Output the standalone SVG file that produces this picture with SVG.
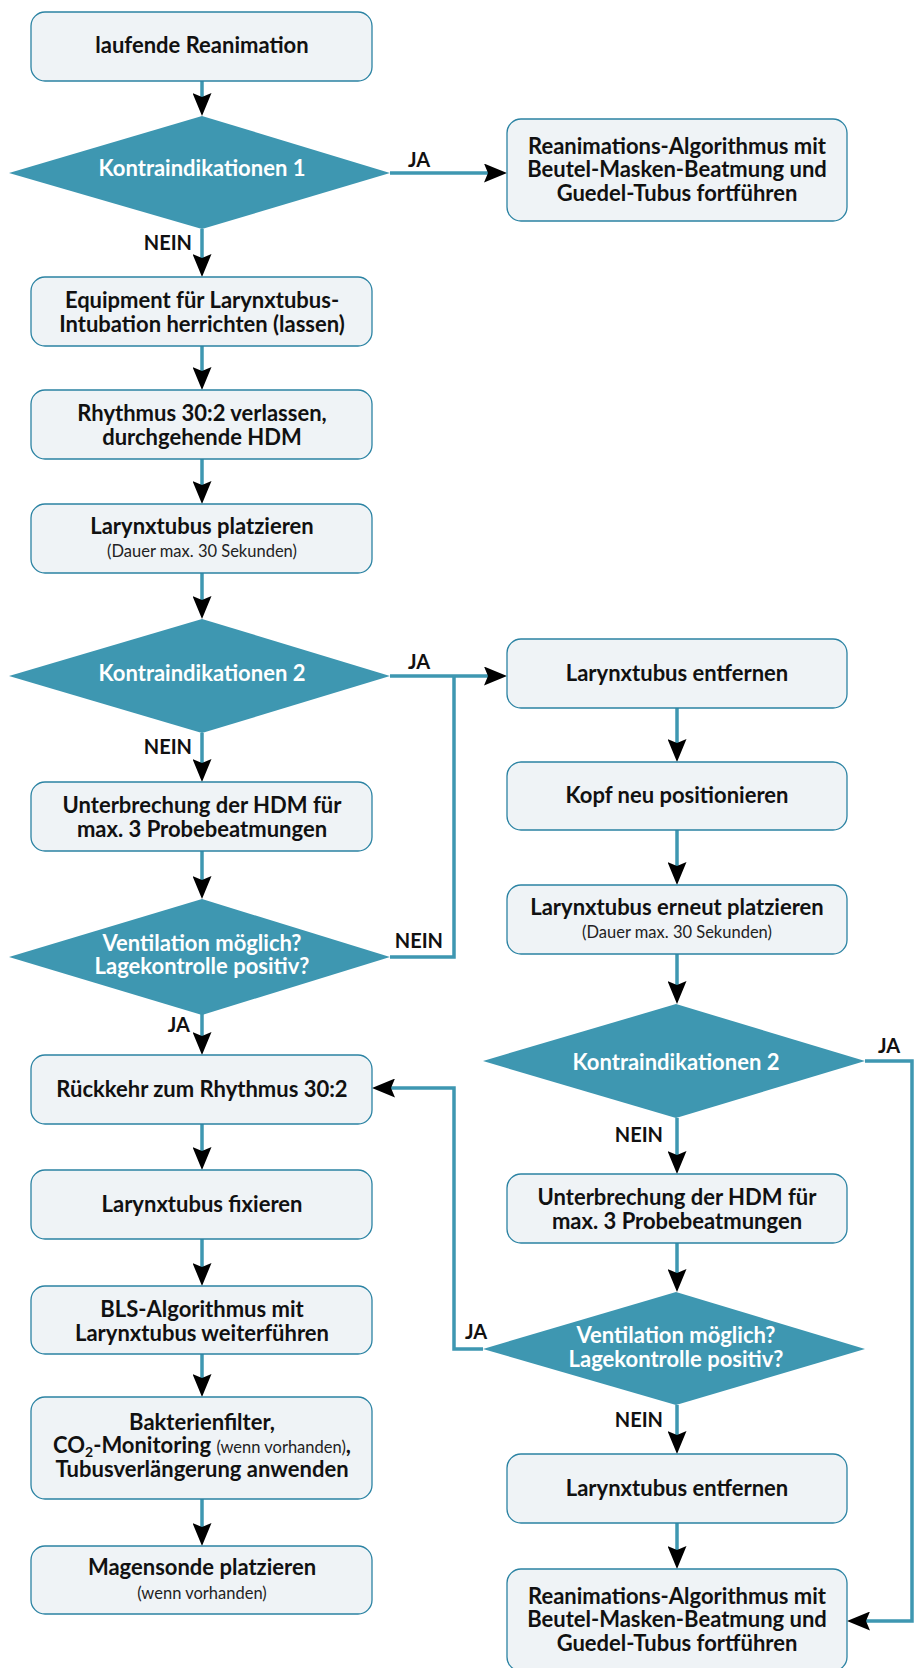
<svg xmlns="http://www.w3.org/2000/svg" width="914" height="1668" viewBox="0 0 914 1668">
<style>
.box{fill:#eff3f6;stroke:#2b83a3;stroke-width:1.3}
.dia{fill:#3e97b1}
.t{font-family:Lato,"Noto Sans",sans-serif;font-weight:700;font-size:22px;fill:#111;text-anchor:middle}
.w{fill:#fff}
.s{font-family:Lato,"Noto Sans",sans-serif;font-weight:400;font-size:16.5px;fill:#222;text-anchor:middle}
.sr{font-weight:400;font-size:16.5px;fill:#222}
.lbl{font-family:Lato,"Noto Sans",sans-serif;font-weight:700;font-size:20px;fill:#111}
.c{fill:none;stroke:#3e97b1;stroke-width:3.5}
</style>
<defs>
<marker id="ah" markerUnits="userSpaceOnUse" markerWidth="23" markerHeight="19" refX="12" refY="9.5" orient="auto">
<path d="M0,0 L23,9.5 L0,19 L4,9.5 z" fill="#000"/>
</marker>
</defs>
<rect width="914" height="1668" fill="#fff"/>

<g id="connectors">
<path class="c" d="M202,81 V105" marker-end="url(#ah)"/>
<path class="c" d="M202,229 V266" marker-end="url(#ah)"/>
<path class="c" d="M202,346 V379" marker-end="url(#ah)"/>
<path class="c" d="M202,459 V493" marker-end="url(#ah)"/>
<path class="c" d="M202,573 V608" marker-end="url(#ah)"/>
<path class="c" d="M202,733 V771" marker-end="url(#ah)"/>
<path class="c" d="M202,851 V888" marker-end="url(#ah)"/>
<path class="c" d="M202,1014 V1044" marker-end="url(#ah)"/>
<path class="c" d="M202,1124 V1159" marker-end="url(#ah)"/>
<path class="c" d="M202,1239 V1275" marker-end="url(#ah)"/>
<path class="c" d="M202,1354 V1386" marker-end="url(#ah)"/>
<path class="c" d="M202,1499 V1535" marker-end="url(#ah)"/>
<path class="c" d="M390,173 H496" marker-end="url(#ah)"/>
<path class="c" d="M390,676 H496" marker-end="url(#ah)"/>
<path class="c" d="M390,957 H454 V676"/>
<path class="c" d="M677,708 V751" marker-end="url(#ah)"/>
<path class="c" d="M677,830 V874" marker-end="url(#ah)"/>
<path class="c" d="M677,954 V993" marker-end="url(#ah)"/>
<path class="c" d="M677,1118 V1163" marker-end="url(#ah)"/>
<path class="c" d="M677,1243 V1281" marker-end="url(#ah)"/>
<path class="c" d="M677,1405 V1443" marker-end="url(#ah)"/>
<path class="c" d="M677,1523 V1558" marker-end="url(#ah)"/>
<path class="c" d="M483,1349 H454 V1088 H383" marker-end="url(#ah)"/>
<path class="c" d="M865,1061 H912 V1621 H858" marker-end="url(#ah)"/>
<text class="lbl" x="408" y="167">JA</text>
<text class="lbl" x="192" y="250" text-anchor="end">NEIN</text>
<text class="lbl" x="408" y="669">JA</text>
<text class="lbl" x="192" y="754" text-anchor="end">NEIN</text>
<text class="lbl" x="443" y="948" text-anchor="end">NEIN</text>
<text class="lbl" x="190" y="1032" text-anchor="end">JA</text>
<text class="lbl" x="878" y="1053">JA</text>
<text class="lbl" x="663" y="1142" text-anchor="end">NEIN</text>
<text class="lbl" x="465" y="1339">JA</text>
<text class="lbl" x="663" y="1427" text-anchor="end">NEIN</text>
</g>

<g id="n1"><rect class="box" x="31" y="12" width="341" height="69" rx="14"/><text class="t" x="202" y="53">laufende Reanimation</text></g>
<g id="d1"><polygon class="dia" points="202,116 390,173 202,229 9,173"/><text class="t w" x="202" y="176">Kontraindikationen 1</text></g>
<g id="n2"><rect class="box" x="507" y="119" width="340" height="102" rx="14"/>
<text class="t" x="677" y="154">Reanimations-Algorithmus mit<tspan x="677" dy="23.3">Beutel-Masken-Beatmung und</tspan><tspan x="677" dy="23.3">Guedel-Tubus fortführen</tspan></text></g>
<g id="n3"><rect class="box" x="31" y="277" width="341" height="69" rx="14"/>
<text class="t" x="202" y="308">Equipment für Larynxtubus-<tspan x="202" dy="23.5">Intubation herrichten (lassen)</tspan></text></g>
<g id="n4"><rect class="box" x="31" y="390" width="341" height="69" rx="14"/>
<text class="t" x="202" y="421">Rhythmus 30:2 verlassen,<tspan x="202" dy="23.5">durchgehende HDM</tspan></text></g>
<g id="n5"><rect class="box" x="31" y="504" width="341" height="69" rx="14"/>
<text class="t" x="202" y="534">Larynxtubus platzieren<tspan class="sr" x="202" dy="23">(Dauer max. 30 Sekunden)</tspan></text></g>
<g id="d2"><polygon class="dia" points="202,619 390,676 202,733 9,676"/><text class="t w" x="202" y="681">Kontraindikationen 2</text></g>
<g id="n6"><rect class="box" x="507" y="639" width="340" height="69" rx="14"/><text class="t" x="677" y="681">Larynxtubus entfernen</text></g>
<g id="n7"><rect class="box" x="31" y="782" width="341" height="69" rx="14"/>
<text class="t" x="202" y="813">Unterbrechung der HDM für<tspan x="202" dy="23.5">max. 3 Probebeatmungen</tspan></text></g>
<g id="n8"><rect class="box" x="507" y="762" width="340" height="68" rx="14"/><text class="t" x="677" y="803">Kopf neu positionieren</text></g>
<g id="n9"><rect class="box" x="507" y="885" width="340" height="69" rx="14"/>
<text class="t" x="677" y="915">Larynxtubus erneut platzieren<tspan class="sr" x="677" dy="23">(Dauer max. 30 Sekunden)</tspan></text></g>
<g id="d3"><polygon class="dia" points="202,899 390,957 202,1015 9,957"/>
<text class="t w" x="202" y="951">Ventilation möglich?<tspan x="202" dy="23.3">Lagekontrolle positiv?</tspan></text></g>
<g id="d4"><polygon class="dia" points="676,1004 865,1061 676,1118 483,1061"/><text class="t w" x="676" y="1070">Kontraindikationen 2</text></g>
<g id="n10"><rect class="box" x="31" y="1055" width="341" height="69" rx="14"/><text class="t" x="202" y="1097">Rückkehr zum Rhythmus 30:2</text></g>
<g id="n11"><rect class="box" x="31" y="1170" width="341" height="69" rx="14"/><text class="t" x="202" y="1212">Larynxtubus fixieren</text></g>
<g id="n12"><rect class="box" x="507" y="1174" width="340" height="69" rx="14"/>
<text class="t" x="677" y="1205">Unterbrechung der HDM für<tspan x="677" dy="23.5">max. 3 Probebeatmungen</tspan></text></g>
<g id="n13"><rect class="box" x="31" y="1286" width="341" height="68" rx="14"/>
<text class="t" x="202" y="1317">BLS-Algorithmus mit<tspan x="202" dy="23.5">Larynxtubus weiterführen</tspan></text></g>
<g id="d5"><polygon class="dia" points="676,1292 865,1349 676,1405 483,1349"/>
<text class="t w" x="676" y="1343">Ventilation möglich?<tspan x="676" dy="23.5">Lagekontrolle positiv?</tspan></text></g>
<g id="n14"><rect class="box" x="31" y="1397" width="341" height="102" rx="14"/>
<text class="t" x="202" y="1430">Bakterienfilter,<tspan x="202" dy="23.3">CO</tspan><tspan font-size="14" dy="4">2</tspan><tspan dy="-4">-Monitoring </tspan><tspan class="sr">(wenn vorhanden)</tspan>,<tspan x="202" dy="23.5">Tubusverlängerung anwenden</tspan></text></g>
<g id="n15"><rect class="box" x="507" y="1454" width="340" height="69" rx="14"/><text class="t" x="677" y="1496">Larynxtubus entfernen</text></g>
<g id="n16"><rect class="box" x="31" y="1546" width="341" height="68" rx="14"/>
<text class="t" x="202" y="1575">Magensonde platzieren<tspan class="sr" x="202" dy="24">(wenn vorhanden)</tspan></text></g>
<g id="n17"><rect class="box" x="507" y="1569" width="340" height="102" rx="14"/>
<text class="t" x="677" y="1604">Reanimations-Algorithmus mit<tspan x="677" dy="23.3">Beutel-Masken-Beatmung und</tspan><tspan x="677" dy="23.5">Guedel-Tubus fortführen</tspan></text></g>
</svg>
